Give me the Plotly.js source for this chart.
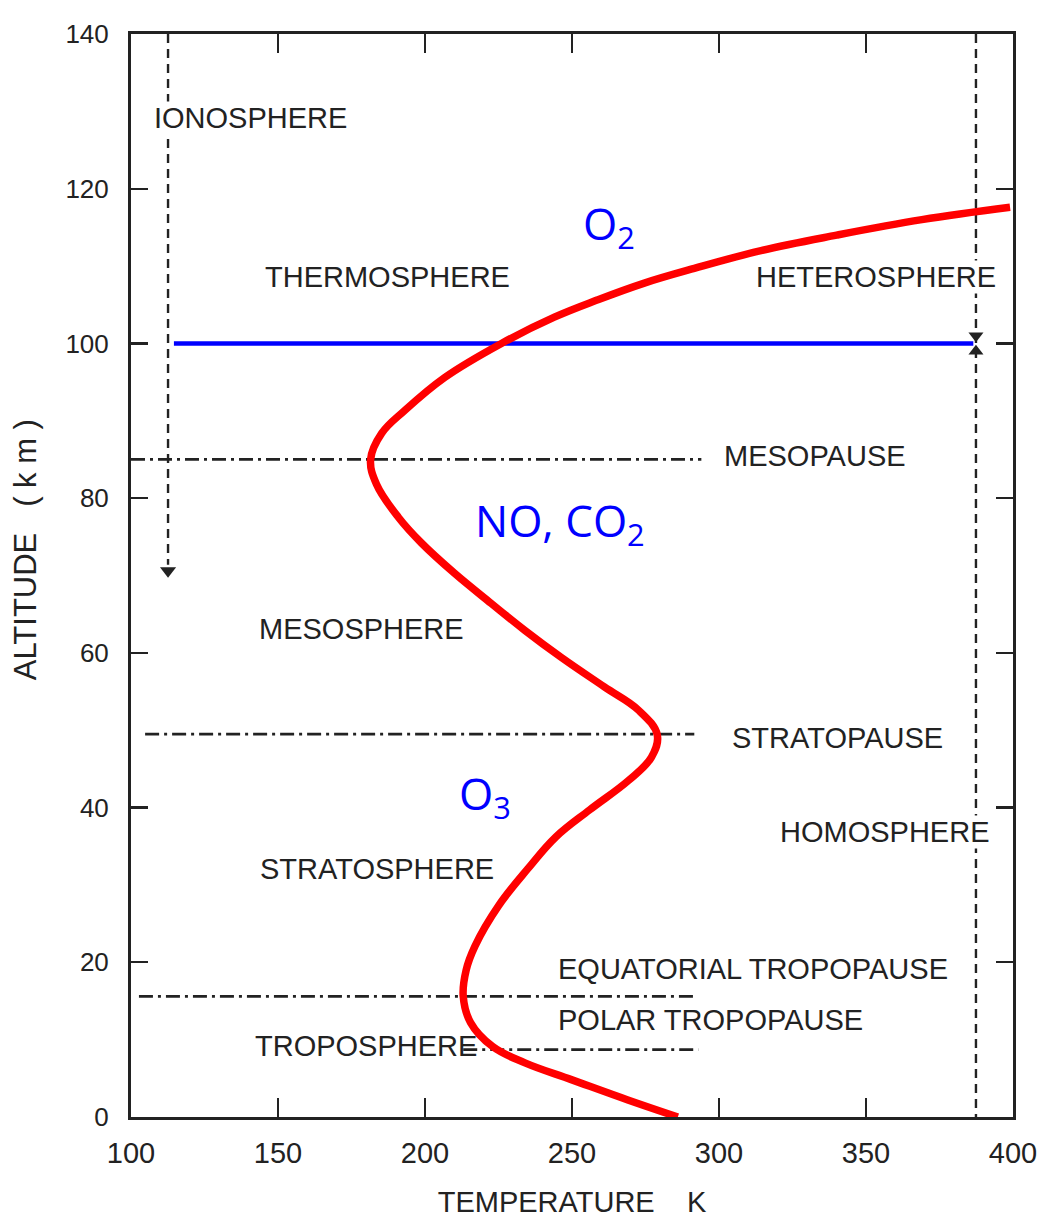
<!DOCTYPE html>
<html>
<head>
<meta charset="utf-8">
<script src="https://cdn.plot.ly/plotly-3.0.1.min.js"></script>
<style>
  html, body { margin: 0; padding: 0; background: #ffffff; }
  #chart { width: 1042px; height: 1223px; }
</style>
</head>
<body>
<div id="chart"></div>
<script>
// Mean temperature profile of the atmosphere (altitude in km, temperature in K)
const altitudeKm   = [0, 2.2, 4.8, 7.0, 9.1, 12.2, 15.6, 19.0, 22.1, 27.3, 32.1, 36.2, 39.7, 43.5, 46.5, 49.4,
                      52.6, 55.6, 59.4, 62.9, 66.4, 70.3, 74.2, 77.5, 81.8, 85.0, 88.4, 91.3, 95.6, 100.0,
                      103.4, 105.6, 107.8, 109.7, 112.0, 114.0, 116.0, 117.6];
const temperatureK = [286, 269, 250, 234, 223, 215.5, 213, 214, 217, 225, 235, 244.5, 256, 269.2, 277, 279,
                      272.6, 261, 246.4, 234, 222.5, 210, 198.8, 191, 183.5, 181.5, 185.3, 193, 206.7, 226,
                      244, 258.5, 274.6, 291.6, 314.3, 340, 369, 399];

// Layer boundaries drawn as dash-dot lines
const boundaryNames  = ['MESOPAUSE', 'STRATOPAUSE', 'EQUATORIAL TROPOPAUSE', 'POLAR TROPOPAUSE'];
const boundaryAltKm  = [85, 49.5, 15.6, 8.7];
const boundaryFromK  = [100, 104.8, 102.7, 213];
const boundaryToK    = [294, 291.6, 292, 293];

// Turbopause (homosphere / heterosphere limit) and ionosphere extent
const turbopauseAltKm   = 100;
const turbopauseFromK   = 114.6;
const turbopauseToK     = 386.5;
const ionosphereK       = 112.6;
const ionosphereTopKm   = 140;
const ionosphereBaseKm  = 70;
const homosphereLineK   = 387.4;

// Axis ticks
const xTicks = [100, 150, 200, 250, 300, 350, 400];
const yTicks = [0, 20, 40, 60, 80, 100, 120, 140];

const INK = '#222222';
const BLUE = '#0000ff';
const LABEL_FONT = 'Liberation Sans, Arial, Helvetica, sans-serif';
const DASH_DOT = '14px,5px,3px,5px';
const NBSP = '\u00a0';
const ZWSP = '\u200b';

const traces = [];

boundaryNames.forEach((name, i) => {
  traces.push({
    type: 'scatter', mode: 'lines', name: name, showlegend: false, hoverinfo: 'skip',
    x: [boundaryFromK[i], boundaryToK[i]],
    y: [boundaryAltKm[i], boundaryAltKm[i]],
    line: { color: INK, width: 2.8, dash: DASH_DOT }
  });
});

// Ionosphere: dashed line running down from the top of the chart
traces.push({
  type: 'scatter', mode: 'lines', showlegend: false, hoverinfo: 'skip',
  x: [ionosphereK, ionosphereK], y: [ionosphereTopKm, ionosphereBaseKm + 1.4],
  line: { color: INK, width: 2.4, dash: '9px,6px' }
});
traces.push({
  type: 'scatter', mode: 'markers', showlegend: false, hoverinfo: 'skip',
  x: [ionosphereK], y: [ionosphereBaseKm + 0.6],
  marker: { symbol: 'triangle-down', size: 14, color: INK }
});

// Homosphere / heterosphere: full-height dashed line with arrows meeting at the turbopause
traces.push({
  type: 'scatter', mode: 'lines', showlegend: false, hoverinfo: 'skip',
  x: [homosphereLineK, homosphereLineK], y: [ionosphereTopKm, 0],
  line: { color: INK, width: 2.4, dash: '9px,6px' }
});
traces.push({
  type: 'scatter', mode: 'markers', showlegend: false, hoverinfo: 'skip',
  x: [homosphereLineK, homosphereLineK], y: [turbopauseAltKm + 1.0, turbopauseAltKm - 1.0],
  marker: { symbol: ['triangle-down', 'triangle-up'], size: 13, color: INK }
});

// Turbopause at 100 km
traces.push({
  type: 'scatter', mode: 'lines', showlegend: false, hoverinfo: 'skip',
  x: [turbopauseFromK, turbopauseToK], y: [turbopauseAltKm, turbopauseAltKm],
  line: { color: BLUE, width: 4.5 }
});

// Temperature profile
traces.push({
  type: 'scatter', mode: 'lines', name: 'Temperature', showlegend: false,
  x: temperatureK, y: altitudeKm,
  line: { color: '#ff0000', width: 7.5, shape: 'spline', smoothing: 1.1, simplify: false }
});

function regionLabel(text, x, y, xanchor, bg) {
  return {
    xref: 'x', yref: 'y', x: x, y: y, text: text, showarrow: false,
    xanchor: xanchor, yanchor: 'middle',
    font: { family: LABEL_FONT, size: 29, color: INK },
    bgcolor: bg ? '#ffffff' : 'rgba(0,0,0,0)', borderpad: 0
  };
}
function speciesLabel(text, x, y) {
  return {
    xref: 'x', yref: 'y', x: x, y: y, text: text, showarrow: false,
    xanchor: 'left', yanchor: 'middle',
    font: { family: 'Open Sans, Noto Sans, sans-serif', size: 44, color: BLUE }
  };
}

const annotations = [
  regionLabel('IONOSPHERE', 107.6, 129.1, 'left', true),
  regionLabel('THERMOSPHERE', 145.3, 108.6, 'left'),
  regionLabel('HETEROSPHERE', 394.4, 108.6, 'right', true),
  regionLabel(boundaryNames[0], 301.5, 85.4, 'left'),
  regionLabel('MESOSPHERE', 143.3, 63.1, 'left'),
  regionLabel(boundaryNames[1], 304, 49.0, 'left'),
  regionLabel('HOMOSPHERE', 320.3, 36.8, 'left', true),
  regionLabel('STRATOSPHERE', 143.6, 32.1, 'left'),
  regionLabel(boundaryNames[2], 245, 19.1, 'left'),
  regionLabel(boundaryNames[3], 245, 12.6, 'left'),
  regionLabel('TROPOSPHERE', 142.0, 9.2, 'left'),
  speciesLabel('O<sub>2</sub>', 252.9, 115.3),
  speciesLabel('NO, CO<sub>2</sub>', 216.4, 76.9),
  speciesLabel('O<sub>3</sub>', 211.0, 41.5)
];

const layout = {
  width: 1042, height: 1223,
  margin: { l: 131, r: 29, t: 34, b: 106 },
  paper_bgcolor: '#ffffff', plot_bgcolor: '#ffffff',
  showlegend: false,
  xaxis: {
    range: [100, 400], tickvals: xTicks, ticktext: xTicks.map(String),
    ticks: 'inside', ticklen: 19, tickwidth: 2.4, tickcolor: INK,
    showline: true, linewidth: 3, linecolor: INK, mirror: 'ticks',
    showgrid: false, zeroline: false, fixedrange: true,
    tickfont: { family: LABEL_FONT, size: 29, color: INK },
    ticklabelstandoff: 8,
    title: { text: 'TEMPERATURE' + NBSP.repeat(4) + 'K', standoff: 24,
             font: { family: LABEL_FONT, size: 29, color: INK } }
  },
  yaxis: {
    range: [0, 140], tickvals: yTicks, ticktext: yTicks.map(String),
    ticks: 'inside', ticklen: 17, tickwidth: 2.4, tickcolor: INK,
    showline: true, linewidth: 3, linecolor: INK, mirror: 'ticks',
    showgrid: false, zeroline: false, fixedrange: true,
    tickfont: { family: LABEL_FONT, size: 26, color: INK },
    ticklabelstandoff: 14,
    title: { text: ZWSP + NBSP.repeat(6) + 'ALTITUDE' + NBSP.repeat(3) + '(' + NBSP + 'k' + NBSP + 'm' + NBSP + ')',
             standoff: 20,
             font: { family: LABEL_FONT, size: 31, color: INK } }
  },
  annotations: annotations
};

Plotly.newPlot('chart', traces, layout, { staticPlot: true, displayModeBar: false });
</script>
</body>
</html>
